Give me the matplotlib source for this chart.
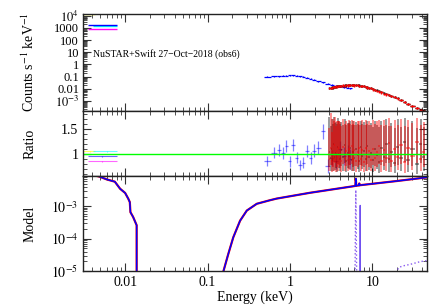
import numpy as np
import matplotlib
matplotlib.use("Agg")
import matplotlib.pyplot as plt
from matplotlib.ticker import (FixedLocator, FixedFormatter, LogLocator,
                               MultipleLocator, NullFormatter)

plt.rcParams['font.family'] = ['Liberation Serif', 'DejaVu Serif']
plt.rcParams['mathtext.fontset'] = 'stix'

# Swift XRT (blue)
xrt_e = [0.53, 0.64, 0.74, 0.83, 0.9, 1.0, 1.08, 1.2, 1.32, 1.45, 1.62, 1.78,
         1.95, 2.2, 2.5, 2.9, 3.2, 3.6, 4.0, 4.5, 5.0, 5.4]
xrt_cnt = [0.100, 0.105, 0.110, 0.115, 0.118, 0.125, 0.130, 0.122, 0.108, 0.095,
           0.080, 0.066, 0.055, 0.043, 0.034, 0.025, 0.021, 0.018, 0.016, 0.014,
           0.012, 0.011]
xrt_ratio = [0.87, 1.03, 1.09, 1.03, 1.16, 0.86, 1.19, 0.93, 0.79, 0.83, 1.06,
             0.93, 1.07, 1.13, 1.46, 0.76, 0.93, 0.86, 1.10, 0.97, 1.00, 0.90]
xrt_rerr = [0.10, 0.11, 0.12, 0.12, 0.12, 0.11, 0.12, 0.11, 0.10, 0.11, 0.12,
            0.12, 0.13, 0.13, 0.15, 0.14, 0.16, 0.16, 0.17, 0.18, 0.19, 0.20]

# NuSTAR FPMA (black) / FPMB (red)
nu_e = [3.0, 3.1, 3.2, 3.3, 3.4, 3.5, 3.6, 3.7, 3.8, 3.9,
        4.0, 4.2, 4.4, 4.6, 4.8, 5.0, 5.2, 5.4, 5.6, 5.8,
        6.0, 6.3, 6.6, 6.9, 7.2, 7.5, 7.9, 8.3, 8.7, 9.1, 9.6,
        10.1, 10.7, 11.3, 12.0, 12.8, 13.7, 14.7, 15.8, 17.0, 18.5, 20.2,
        22.2, 24.5, 27.2, 30.5, 34.5, 38.5, 42.0]
fpma_cnt = [0.011, 0.012, 0.013, 0.013, 0.014, 0.015, 0.015, 0.016, 0.016, 0.017,
            0.017, 0.018, 0.018, 0.019, 0.019, 0.020, 0.020, 0.020, 0.021, 0.020,
            0.020, 0.021, 0.020, 0.019, 0.018, 0.017, 0.016, 0.015, 0.013, 0.012, 0.011,
            0.0095, 0.0085, 0.0075, 0.0062, 0.0052, 0.0043, 0.0037, 0.0031, 0.0026,
            0.0021, 0.0017, 0.0013, 0.0009, 0.00062, 0.00040, 0.00027, 0.00020, 0.00017]
fpmb_cnt = [0.012, 0.012, 0.012, 0.014, 0.014, 0.014, 0.016, 0.015, 0.017, 0.016,
            0.018, 0.017, 0.019, 0.018, 0.020, 0.019, 0.021, 0.020, 0.020, 0.021,
            0.019, 0.020, 0.021, 0.018, 0.018, 0.016, 0.016, 0.014, 0.013, 0.011, 0.011,
            0.0090, 0.0082, 0.0070, 0.0060, 0.0050, 0.0041, 0.0035, 0.0030, 0.0025,
            0.0020, 0.0016, 0.0012, 0.00085, 0.00058, 0.00037, 0.00025, 0.00018, 0.00016]
fpma_ratio = [1.05, 0.92, 1.10, 0.88, 1.20, 0.95, 1.02, 0.85, 1.15, 1.00,
              0.90, 1.08, 0.94, 1.18, 0.87, 1.03, 0.96, 1.12, 0.89, 1.05,
              0.93, 1.10, 0.98, 0.86, 1.14, 0.97, 1.06, 0.91, 1.16, 0.95, 1.02,
              0.88, 1.10, 0.99, 0.84, 1.12, 0.95, 1.20, 0.90, 1.05, 0.82, 1.15,
              0.93, 1.25, 0.88, 1.10, 0.80, 1.20, 0.95]
fpma_hi = [0.70, 0.65, 0.60, 0.72, 0.55, 0.68, 0.62, 0.75, 0.58, 0.66,
           0.70, 0.56, 0.64, 0.52, 0.71, 0.60, 0.66, 0.54, 0.70, 0.62,
           0.65, 0.55, 0.62, 0.72, 0.52, 0.64, 0.58, 0.68, 0.50, 0.64, 0.60,
           0.66, 0.56, 0.60, 0.70, 0.55, 0.62, 0.50, 0.66, 0.58, 0.70, 0.55,
           0.62, 0.48, 0.66, 0.56, 0.72, 0.50, 0.60]
fpma_lo = [0.30, 0.25, 0.32, 0.22, 0.35, 0.26, 0.30, 0.20, 0.34, 0.28,
           0.24, 0.32, 0.27, 0.36, 0.22, 0.30, 0.26, 0.33, 0.23, 0.30,
           0.26, 0.33, 0.28, 0.22, 0.35, 0.27, 0.31, 0.25, 0.36, 0.27, 0.30,
           0.24, 0.33, 0.28, 0.21, 0.34, 0.27, 0.38, 0.25, 0.31, 0.20, 0.36,
           0.27, 0.40, 0.24, 0.33, 0.20, 0.38, 0.28]
fpmb_ratio = [0.90, 1.12, 0.86, 1.04, 0.93, 1.18, 0.88, 1.06, 0.94, 1.13,
              1.01, 0.87, 1.15, 0.92, 1.07, 0.89, 1.11, 0.95, 1.16, 0.90,
              1.08, 0.87, 1.04, 1.12, 0.91, 1.09, 0.85, 1.13, 0.94, 1.06, 0.89,
              1.11, 0.92, 1.05, 1.17, 0.87, 1.08, 0.93, 1.22, 0.86, 1.10, 0.95,
              1.18, 0.84, 1.12, 0.96, 1.24, 0.90, 1.05]
fpmb_hi = [0.62, 0.70, 0.58, 0.66, 0.74, 0.56, 0.68, 0.60, 0.72, 0.54,
           0.64, 0.70, 0.55, 0.68, 0.60, 0.72, 0.57, 0.66, 0.52, 0.70,
           0.58, 0.72, 0.62, 0.54, 0.68, 0.60, 0.74, 0.56, 0.66, 0.60, 0.70,
           0.58, 0.68, 0.62, 0.52, 0.72, 0.60, 0.66, 0.50, 0.70, 0.58, 0.64,
           0.52, 0.72, 0.56, 0.66, 0.48, 0.68, 0.60]
fpmb_lo = [0.24, 0.33, 0.22, 0.30, 0.26, 0.36, 0.23, 0.31, 0.27, 0.34,
           0.29, 0.22, 0.35, 0.26, 0.31, 0.23, 0.33, 0.27, 0.36, 0.24,
           0.31, 0.22, 0.30, 0.34, 0.25, 0.32, 0.21, 0.34, 0.27, 0.31, 0.23,
           0.33, 0.26, 0.30, 0.37, 0.22, 0.31, 0.27, 0.40, 0.22, 0.33, 0.27,
           0.38, 0.21, 0.34, 0.28, 0.42, 0.24, 0.30]

# stray low-energy points (top-left corner)
odd_colors = ['#ffff00', '#00ffff', '#0000ff', '#ff00ff']
odd_e = [0.0037, 0.0060, 0.0053, 0.0053]
odd_elo = [0.0031, 0.0041, 0.0035, 0.0035]
odd_ehi = [0.0043, 0.0080, 0.0080, 0.0080]
odd_cnt = [1.3e4, 1400, 1700, 800]
odd_ratio = [1.056, 1.056, 0.956, 0.86]

# model curves
mod_lo_e = [0.0031, 0.0041, 0.0049, 0.0060, 0.0075, 0.0087, 0.0100, 0.0109,
            0.0114, 0.0116, 0.0125, 0.0138, 0.0138]
mod_lo_m = [8.9e-3, 9.3e-3, 8.3e-3, 6.8e-3, 5.8e-3, 3.5e-3, 2.6e-3, 1.74e-3,
            1.35e-3, 6.6e-4, 4.7e-4, 2.6e-4, 1e-7]
mod_hi_e = [0.150, 0.156, 0.178, 0.205, 0.248, 0.299, 0.395, 0.573, 0.69, 1.75,
            5.9, 6.2, 6.28, 6.36, 6.85, 6.92, 7.0, 20.0, 46.0]
mod_hi_m = [1e-6, 1e-5, 3.3e-5, 1.1e-4, 3.6e-4, 7.4e-4, 1.2e-3, 1.55e-3, 1.74e-3,
            2.63e-3, 4.2e-3, 4.3e-3, 7.2e-3, 4.35e-3, 4.45e-3, 5.1e-3, 4.5e-3,
            6.1e-3, 7.9e-3]
fe_e = [6.0, 6.15, 6.22, 6.28, 6.34, 6.42, 6.6]
fe_m = [1e-7, 1e-5, 3e-4, 3.2e-3, 3e-4, 1e-5, 1e-7]
fe2_e = [7.0, 7.08, 7.1, 7.12, 7.2]
fe2_m = [1e-7, 1e-5, 1.07e-3, 1e-5, 1e-7]
refl_e = [19.0, 19.7, 21.0, 23.8, 28.6, 38.0, 46.0]
refl_m = [1e-7, 1e-5, 1.3e-5, 1.45e-5, 1.6e-5, 1.95e-5, 2.1e-5]


def bin_halfwidths(e):
    e = np.asarray(e)
    mid = np.sqrt(e[:-1] * e[1:])
    lo = np.concatenate([[e[0] ** 2 / mid[0]], mid])
    hi = np.concatenate([mid, [e[-1] ** 2 / mid[-1]]])
    return np.vstack([e - lo, hi - e])


fig = plt.figure(figsize=(4.31, 3.05), dpi=100)
L, W = 0.193, 0.798
ax1 = fig.add_axes([L, 0.636, W, 0.318])
ax2 = fig.add_axes([L, 0.423, W, 0.213], sharex=ax1)
ax3 = fig.add_axes([L, 0.1115, W, 0.3115], sharex=ax1)

xrt_xerr = bin_halfwidths(xrt_e)
nu_xerr = bin_halfwidths(nu_e)
cnt_frac = 0.2

# top panel: counts
ax1.errorbar(xrt_e, xrt_cnt, xerr=xrt_xerr, yerr=np.array(xrt_cnt) * cnt_frac * 0.5,
             fmt='none', ecolor='blue', elinewidth=0.9)
ax1.errorbar(nu_e, fpma_cnt, xerr=nu_xerr, yerr=np.array(fpma_cnt) * cnt_frac,
             fmt='none', ecolor='black', elinewidth=1.0)
ax1.errorbar(nu_e, fpmb_cnt, xerr=nu_xerr, yerr=np.array(fpmb_cnt) * cnt_frac,
             fmt='none', ecolor='red', elinewidth=1.0)
for c, e, lo, hi, v in zip(odd_colors, odd_e, odd_elo, odd_ehi, odd_cnt):
    ax1.errorbar([e], [v], xerr=[[e - lo], [hi - e]], fmt='none', ecolor=c,
                 elinewidth=1.0)
ax1.set_yscale('log')
ax1.set_ylim(1.5e-4, 1.35e4)
ax1.set_ylabel(r'Counts s$^{-1}$ keV$^{-1}$', fontsize=10)
ax1.text(0.028, 0.59, 'NuSTAR+Swift 27\u2212Oct\u22122018 (obs6)',
         transform=ax1.transAxes, fontsize=7, va='center')
top_ticks = [1e4, 1e3, 100, 10, 1, 0.1, 0.01, 1e-3]
ax1.yaxis.set_major_locator(FixedLocator(top_ticks))
ax1.yaxis.set_major_formatter(FixedFormatter(
    [r'$10^4$', '1000', '100', '10', '1', '0.1', '0.01', r'$10^{-3}$']))
ax1.yaxis.set_minor_locator(LogLocator(base=10, subs=np.arange(2, 10), numticks=100))
ax1.yaxis.set_minor_formatter(NullFormatter())

# ratio panel
ax2.errorbar(xrt_e, xrt_ratio, xerr=xrt_xerr, yerr=xrt_rerr, fmt='none',
             ecolor='blue', elinewidth=0.9, alpha=0.5)
ax2.errorbar(nu_e, fpma_ratio, xerr=nu_xerr, yerr=[fpma_lo, fpma_hi], fmt='none',
             ecolor='black', elinewidth=1.1, alpha=0.5)
ax2.errorbar(nu_e, fpmb_ratio, xerr=nu_xerr, yerr=[fpmb_lo, fpmb_hi], fmt='none',
             ecolor='red', elinewidth=1.1, alpha=0.55)
for c, e, lo, hi, v in zip(odd_colors, odd_e, odd_elo, odd_ehi, odd_ratio):
    ax2.errorbar([e], [v], xerr=[[e - lo], [hi - e]], yerr=0.01, fmt='none',
                 ecolor=c, elinewidth=0.8, alpha=0.6)
ax2.axhline(1.0, color='#00ff00', lw=1.0)
ax2.set_ylim(0.566, 1.866)
ax2.set_ylabel('Ratio', fontsize=10)
ax2.yaxis.set_major_locator(FixedLocator([1.0, 1.5]))
ax2.yaxis.set_major_formatter(FixedFormatter(['1', '1.5']))
ax2.yaxis.set_minor_locator(MultipleLocator(0.1))

# model panel
ax3.plot(mod_lo_e, mod_lo_m, color='red', lw=1.6)
ax3.plot(mod_lo_e, mod_lo_m, color='blue', lw=1.1)
ax3.plot(mod_hi_e, mod_hi_m, color='red', lw=1.6)
ax3.plot(mod_hi_e, mod_hi_m, color='blue', lw=1.1)
ax3.plot(fe_e, fe_m, color='#8a5cf0', lw=1.0, ls=':')
ax3.plot(fe2_e, fe2_m, color='#7050f0', lw=0.9)
ax3.plot(refl_e, refl_m, color='#8a5cf0', lw=1.0, ls=':')
ax3.set_yscale('log')
ax3.set_ylim(1e-5, 8.7e-3)
ax3.set_ylabel('Model', fontsize=10)
ax3.yaxis.set_major_locator(FixedLocator([1e-3, 1e-4, 1e-5]))
ax3.yaxis.set_major_formatter(FixedFormatter([r'$10^{-3}$', r'$10^{-4}$', r'$10^{-5}$']))
ax3.yaxis.set_minor_locator(LogLocator(base=10, subs=np.arange(2, 10), numticks=100))
ax3.yaxis.set_minor_formatter(NullFormatter())

ax3.set_xscale('log')
ax3.set_xlim(0.0031, 46)
ax3.xaxis.set_major_locator(FixedLocator([0.01, 0.1, 1, 10]))
ax3.xaxis.set_major_formatter(FixedFormatter(['0.01', '0.1', '1', '10']))
ax3.xaxis.set_minor_locator(LogLocator(base=10, subs=np.arange(2, 10), numticks=100))
ax3.xaxis.set_minor_formatter(NullFormatter())
ax3.set_xlabel('Energy (keV)', fontsize=10, labelpad=1)

for ax in (ax1, ax2, ax3):
    ax.tick_params(which='both', direction='in', top=True, right=True,
                   labelsize=10, color='#333333')
    ax.tick_params(which='major', length=6, width=0.8)
    ax.tick_params(which='minor', length=3, width=0.6)
    ax.yaxis.set_label_coords(-0.135, 0.5)
    for s in ax.spines.values():
        s.set_linewidth(1.0)
        s.set_color('#222222')
for ax in (ax1, ax2):
    ax.tick_params(labelbottom=False)
ax1.tick_params(axis='y', labelsize=9, pad=3)

fig.savefig('out.png', dpi=100)
